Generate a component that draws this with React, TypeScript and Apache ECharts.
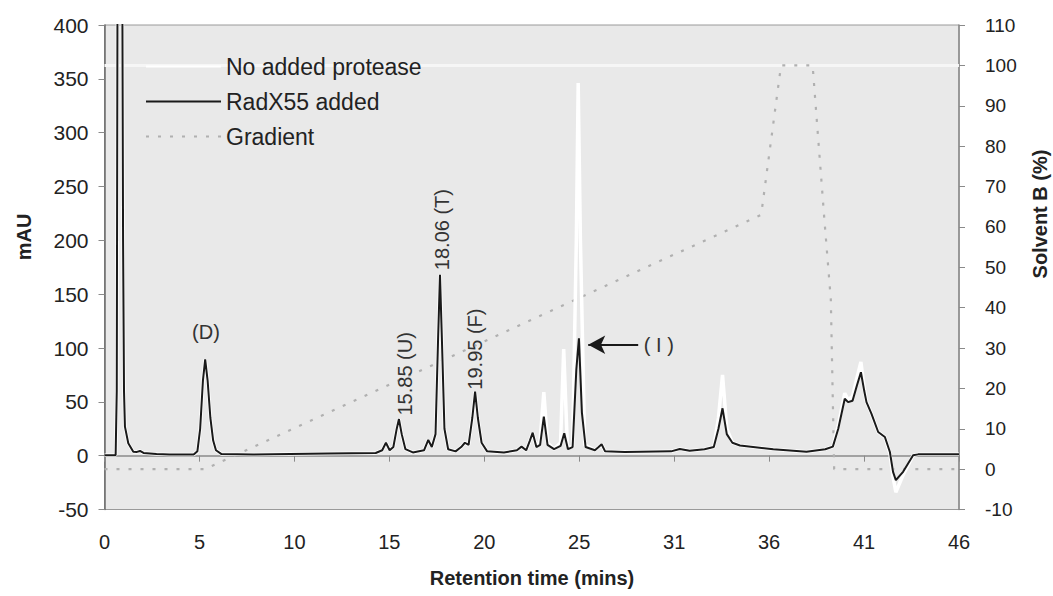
import React, { useEffect, useRef } from "react";
import * as echarts from "echarts";

// x-axis tick labels (printed labels on the original chart)
const xTickLabels = ["0", "5", "10", "15", "20", "25", "31", "36", "41", "46"];
const xMax = 46;

// RadX55 added (black) [min, mAU]
const radx55: [number, number][] = [
  [0, 0.5], [0.6, 0.5], [0.66, 60], [0.7, 430], [0.96, 430], [1.0, 200], [1.05, 60], [1.1, 27],
  [1.28, 11.5], [1.55, 3.7], [1.75, 3.5], [1.91, 4.4], [2.1, 2.5], [2.8, 1.6], [3.5, 1], [4.8, 1],
  [5.0, 4], [5.15, 25], [5.3, 70], [5.42, 89.5], [5.55, 70], [5.7, 35], [5.85, 14], [6.0, 5],
  [6.3, 1.5], [8, 1], [10, 1.5], [12, 2], [14.6, 2.5], [14.95, 5], [15.15, 12], [15.35, 5],
  [15.55, 8], [15.72, 24], [15.85, 34], [16.0, 20], [16.2, 6], [16.6, 3], [17.2, 5], [17.43, 14.6],
  [17.62, 8], [17.82, 20], [17.96, 110], [18.06, 168], [18.16, 110], [18.3, 25], [18.5, 6], [18.9, 4],
  [19.2, 8], [19.4, 12], [19.6, 10], [19.8, 35], [19.95, 59.4], [20.1, 35], [20.3, 12], [20.6, 4],
  [21.5, 3], [22.2, 5], [22.45, 8.4], [22.7, 5], [22.9, 14], [23.05, 21.4], [23.25, 8], [23.45, 10],
  [23.65, 36.2], [23.85, 10], [24.2, 6], [24.55, 9], [24.75, 20.8], [24.95, 6], [25.2, 8], [25.4, 80],
  [25.54, 109], [25.7, 40], [25.9, 8], [26.4, 5], [26.6, 8], [26.76, 10.6], [26.95, 4], [28, 3.5],
  [30.5, 4], [30.97, 6.2], [31.5, 4.5], [32.3, 6], [32.8, 8], [33.05, 25], [33.27, 44], [33.5, 20],
  [33.8, 12], [34.21, 9.5], [36, 6], [37.79, 3.7], [38.8, 6], [39.21, 8.4], [39.5, 25], [39.85, 52.8],
  [40.03, 49.7], [40.27, 51], [40.5, 65], [40.72, 77.5], [40.9, 60], [41.02, 49.7], [41.29, 38.9],
  [41.65, 22], [42.01, 17.3], [42.28, 3.4], [42.45, -15], [42.6, -22.8], [42.99, -15], [43.53, 0.3],
  [43.8, 1.2], [46, 1.2],
];

// No added protease (white) [min, mAU]
const noProtease: [number, number][] = [
  [0, 0.5], [0.6, 0.5], [0.66, 60], [0.7, 430], [0.96, 430], [1.0, 200], [1.05, 60], [1.1, 27],
  [1.28, 11.5], [1.55, 3.7], [1.75, 3.5], [1.91, 4.4], [2.1, 2.5], [2.8, 1.6], [3.5, 1], [4.8, 1],
  [5.0, 4], [5.15, 25], [5.3, 70], [5.42, 89.5], [5.55, 70], [5.7, 35], [5.85, 14], [6.0, 5],
  [6.3, 1.5], [8, 1], [10, 1.5], [12, 2], [14.6, 2.5], [14.95, 5], [15.15, 12], [15.35, 5],
  [15.55, 8], [15.72, 24], [15.85, 34], [16.0, 20], [16.2, 6], [16.6, 3], [17.2, 5], [17.43, 14.6],
  [17.62, 8], [17.82, 20], [17.96, 110], [18.06, 168], [18.16, 110], [18.3, 25], [18.5, 6], [18.9, 4],
  [19.2, 8], [19.4, 12], [19.6, 10], [19.8, 35], [19.95, 59.4], [20.1, 35], [20.3, 12], [20.6, 4],
  [21.5, 3], [22.2, 5], [22.45, 8.4], [22.7, 5], [22.9, 14], [23.05, 21.4], [23.25, 8], [23.45, 14],
  [23.65, 59], [23.85, 12], [24.2, 6], [24.55, 12], [24.72, 99], [24.92, 8], [25.2, 8], [25.4, 200],
  [25.5, 346], [25.62, 200], [25.85, 10], [26.4, 5], [26.6, 8], [26.76, 10.6], [26.95, 4], [28, 3.5],
  [30.5, 4], [30.97, 6.2], [31.5, 4.5], [32.3, 6], [32.8, 8], [33.05, 35], [33.27, 75], [33.5, 25],
  [33.8, 12], [34.21, 9.5], [36, 6], [37.79, 3.7], [38.8, 6], [39.21, 8.4], [39.5, 28], [39.85, 58],
  [40.03, 52], [40.27, 55], [40.5, 72], [40.72, 87], [40.9, 62], [41.02, 50], [41.29, 38.9],
  [41.65, 22], [42.01, 17.3], [42.28, 2], [42.45, -20], [42.6, -34], [42.99, -18], [43.53, 0.3],
  [43.8, 1.2], [46, 1.2],
];

// Gradient (% solvent B) [min, %]
const gradient: [number, number][] = [
  [0, 0], [5.4, 0], [35.35, 63], [36.42, 100], [38.12, 100], [38.75, 62], [39.1, 42], [39.28, 0], [46, 0],
];

// Peak annotations [label, min, mAU, rotated]
const peakLabels: [string, number, number, boolean][] = [
  ["(D)", 5.46, 115, false],
  ["15.85 (U)", 16.17, 76, true],
  ["18.06 (T)", 18.15, 210, true],
  ["19.95 (F)", 19.94, 99, true],
  ["( I )", 29.84, 103, false],
];
// Arrow pointing at peak (I): from [min, mAU] to [min, mAU]
const arrowFrom: [number, number] = [28.73, 103];
const arrowTo: [number, number] = [26.04, 103];

const FONT = "'Liberation Sans', Arial, sans-serif";
const TEXT = "#222";

export default function App() {
  const ref = useRef<HTMLDivElement>(null);
  useEffect(() => {
    if (!ref.current) return;
    const chart = echarts.init(ref.current, undefined, { renderer: "svg" });
    const step = xMax / 9;
    chart.setOption({
      animation: false,
      backgroundColor: "#ffffff",
      textStyle: { fontFamily: FONT },
      grid: {
        left: 104.5, right: 94, top: 25, bottom: 86.5,
        show: true, backgroundColor: "#e9e9e9", borderColor: "#9a9a9a", borderWidth: 1,
      },
      legend: {
        orient: "vertical", left: 140, top: 49, itemWidth: 75, itemHeight: 14, itemGap: 10, z: 20,
        textStyle: { fontSize: 23, color: TEXT, fontFamily: FONT, lineHeight: 25 },
        data: ["No added protease", "RadX55 added", "Gradient"],
      },
      xAxis: {
        type: "value", min: 0, max: xMax, interval: step,
        axisLine: { show: true, lineStyle: { color: "#8a8a8a", width: 1.5 } },
        axisTick: { show: true, length: 6, lineStyle: { color: "#8a8a8a" } },
        splitLine: { show: false },
        axisLabel: {
          fontSize: 20, color: TEXT, margin: 22, fontFamily: FONT,
          formatter: (v: number) => xTickLabels[Math.round(v / step)] ?? "",
        },
      },
      yAxis: [
        {
          type: "value", min: -50, max: 400, interval: 50,
          axisLine: { show: true, lineStyle: { color: "#6a6a6a", width: 1.5 } },
          axisTick: { show: true, length: 6, lineStyle: { color: "#8a8a8a" } },
          splitLine: { show: false },
          axisLabel: { fontSize: 21, color: TEXT, margin: 16, fontFamily: FONT },
        },
        {
          type: "value", min: -10, max: 110, interval: 10, position: "right",
          axisLine: { show: true, lineStyle: { color: "#8a8a8a", width: 1.5 } },
          axisTick: { show: true, length: 6, lineStyle: { color: "#8a8a8a" } },
          splitLine: { show: false },
          axisLabel: { fontSize: 19, color: TEXT, margin: 26, fontFamily: FONT },
        },
      ],
      series: [
        {
          name: "Gradient", type: "line", yAxisIndex: 1, data: gradient, symbol: "none", z: 1,
          itemStyle: { color: "#b0b0b0", opacity: 0 },
          lineStyle: { color: "#b0b0b0", width: 2.2, type: [3, 9] },
          markLine: {
            silent: true, symbol: "none", label: { show: false }, z: 1,
            lineStyle: { color: "#f6f6f6", width: 3, type: "solid" },
            data: [{ yAxis: 100 }],
          },
        },
        {
          name: "No added protease", type: "line", data: noProtease, symbol: "none", z: 2,
          itemStyle: { color: "#ffffff", opacity: 0 },
          lineStyle: { color: "#ffffff", width: 3.5 },
        },
        {
          name: "RadX55 added", type: "line", data: radx55, symbol: "none", z: 3,
          itemStyle: { color: "#1a1a1a", opacity: 0 },
          lineStyle: { color: "#1a1a1a", width: 2 },
          markPoint: {
            silent: true,
            symbol: "circle", symbolSize: 1,
            itemStyle: { color: "rgba(0,0,0,0)", opacity: 1 },
            data: peakLabels.map(([t, x, y, rot]) => ({
              coord: [x, y],
              label: {
                show: true, formatter: t, position: "inside", rotate: rot ? 90 : 0,
                fontSize: 20, color: "#333", fontFamily: FONT,
              },
            })),
          },
          markLine: {
            silent: true,
            label: { show: false },
            itemStyle: { color: "#1a1a1a", opacity: 1 },
            lineStyle: { color: "#1a1a1a", width: 2, type: "solid" },
            data: [[
              { coord: arrowFrom, symbol: "none" },
              { coord: arrowTo, symbol: "arrow", symbolSize: [14, 17] },
            ]],
          },
        },
      ],
      graphic: [
        {
          type: "text", x: 24, y: 237, rotation: Math.PI / 2,
          style: { text: "mAU", font: `bold 20px ${FONT}`, fill: TEXT, align: "center", verticalAlign: "middle" },
        },
        {
          type: "text", x: 1040, y: 214, rotation: Math.PI / 2,
          style: { text: "Solvent B (%)", font: `bold 20px ${FONT}`, fill: TEXT, align: "center", verticalAlign: "middle" },
        },
        {
          type: "text", x: 532, y: 578,
          style: { text: "Retention time (mins)", font: `bold 20px ${FONT}`, fill: TEXT, align: "center", verticalAlign: "middle" },
        },
      ],
    });
    return () => chart.dispose();
  }, []);
  return <div ref={ref} style={{ position: "fixed", left: 0, top: 0, width: 1053, height: 596 }} />;
}
